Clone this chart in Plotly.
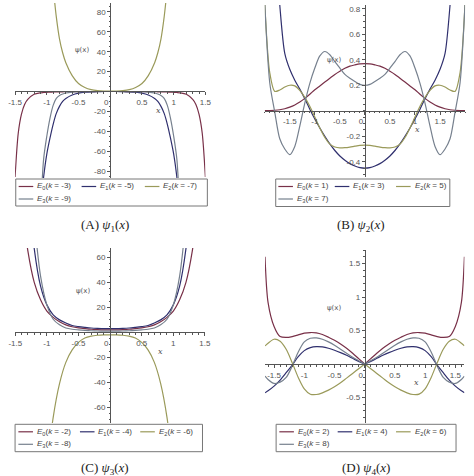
import plotly.graph_objects as go

# ---------------- data ----------------
names = ["E0", "E1", "E2", "E3"]
colors = ["#783048", "#30306e", "#9a9a5a", "#76808e"]

# (A) psi_1, k = -3, -5, -7, -9
a_k = [-3, -5, -7, -9]
a_x = [-1.5, -1.45, -1.4, -1.35, -1.3, -1.2, -1.1, -1.05, -1.0, -0.95, -0.9, -0.85, -0.8, -0.75, -0.7,
       -0.6, -0.5, -0.4, -0.3, -0.2, -0.1, 0, 0.1, 0.2, 0.3, 0.4, 0.5, 0.6, 0.7, 0.75, 0.8, 0.85, 0.9,
       0.95, 1.0, 1.05, 1.1, 1.2, 1.3, 1.35, 1.4, 1.45, 1.5]
a_e0 = [-86, -42, -23, -13, -8, -2.8, -1.3, -1.0, -0.8, -0.6, -0.5, -0.4, -0.3, -0.3, -0.2, -0.2, -0.1, -0.1,
        -0.1, 0, 0, 0, 0, 0, -0.1, -0.1, -0.1, -0.2, -0.2, -0.3, -0.3, -0.4, -0.5, -0.6, -0.8, -1.0, -1.3,
        -2.8, -8, -13, -23, -42, -86]
a_e1 = [None, None, None, None, None, None, -118, -86, -63, -47, -33, -22, -15, -10, -7, -3.5, -1.6, -0.7,
        -0.3, -0.1, 0, 0, 0, -0.1, -0.3, -0.7, -1.6, -3.5, -7, -10, -15, -22, -33, -47, -63, -86, -118,
        None, None, None, None, None, None]
a_e2 = [None, None, None, None, None, None, None, None, None, None, 105, 75, 53, 39, 29, 16, 8, 4, 1.8,
        0.8, 0.4, 0.3, 0.4, 0.8, 1.8, 4, 8, 16, 29, 39, 53, 75, 105, None, None, None, None, None, None,
        None, None, None, None]
a_e3 = [None, None, None, None, None, None, -125, -68, -45, -27, -14, -7, -4, -2.5, -1.5, -0.6, -0.2,
        -0.1, -0.1, 0, 0, 0, 0, 0, -0.1, -0.1, -0.2, -0.6, -1.5, -2.5, -4, -7, -14, -27, -45, -68, -125,
        None, None, None, None, None, None]

# (B) psi_2, k = 1, 3, 5, 7
b_k = [1, 3, 5, 7]
b_x = [-2.0, -1.9, -1.8, -1.7, -1.6, -1.5, -1.4, -1.3, -1.2, -1.1, -1.0, -0.9, -0.8, -0.7, -0.6, -0.5,
       -0.4, -0.3, -0.2, -0.1, 0, 0.1, 0.2, 0.3, 0.4, 0.5, 0.6, 0.7, 0.8, 0.9, 1.0, 1.1, 1.2, 1.3, 1.4,
       1.5, 1.6, 1.7, 1.8, 1.9, 2.0]
b_e0 = [0.001, 0.002, 0.004, 0.008, 0.016, 0.028, 0.045, 0.068, 0.097, 0.13, 0.165, 0.195, 0.225, 0.255,
        0.285, 0.31, 0.333, 0.35, 0.36, 0.368, 0.37, 0.368, 0.36, 0.35, 0.333, 0.31, 0.285, 0.255, 0.225,
        0.195, 0.165, 0.13, 0.097, 0.068, 0.045, 0.028, 0.016, 0.008, 0.004, 0.002, 0.001]
b_e1 = [None, None, 1.4, 0.83, 0.45, 0.325, 0.24, 0.17, 0.095, 0.012, -0.065, -0.135, -0.2, -0.26, -0.312,
        -0.355, -0.388, -0.415, -0.434, -0.446, -0.45, -0.446, -0.434, -0.415, -0.388, -0.355, -0.312,
        -0.26, -0.2, -0.135, -0.065, 0.012, 0.095, 0.17, 0.24, 0.325, 0.45, 0.83, 1.4, None, None]
b_e2 = [0.85, 0.3, 0.152, 0.163, 0.186, 0.2, 0.195, 0.16, 0.105, 0.035, -0.05, -0.135, -0.21, -0.262,
        -0.285, -0.292, -0.29, -0.285, -0.278, -0.272, -0.27, -0.272, -0.278, -0.285, -0.29, -0.292,
        -0.285, -0.262, -0.21, -0.135, -0.05, 0.035, 0.105, 0.16, 0.195, 0.2, 0.186, 0.163, 0.152, 0.3, 0.85]
b_e3 = [0.85, 0.22, -0.01, -0.22, -0.3, -0.345, -0.28, -0.12, 0.06, 0.215, 0.335, 0.43, 0.465, 0.44,
        0.386, 0.335, 0.285, 0.255, 0.23, 0.207, 0.2, 0.207, 0.23, 0.255, 0.285, 0.335, 0.386, 0.44, 0.465,
        0.43, 0.335, 0.215, 0.06, -0.12, -0.28, -0.345, -0.3, -0.22, -0.01, 0.22, 0.85]

# (C) psi_3, k = -2, -4, -6, -8
c_k = [-2, -4, -6, -8]
c_x = [-1.5, -1.4, -1.3, -1.2, -1.1, -1.0, -0.9, -0.8, -0.7, -0.6, -0.5, -0.4, -0.3, -0.2, -0.1, 0,
       0.1, 0.2, 0.3, 0.4, 0.5, 0.6, 0.7, 0.8, 0.9, 1.0, 1.1, 1.2, 1.3, 1.4, 1.5]
c_e0 = [None, 105, 65, 40, 26, 17, 12, 8.5, 6, 4.5, 3.6, 3, 2.5, 2.2, 2, 2, 2, 2.2, 2.5, 3, 3.6, 4.5, 6,
        8.5, 12, 17, 26, 40, 65, 105, None]
c_e1 = [None, None, 120, 67, 37, 22, 14, 10, 7.5, 5.5, 4.6, 4, 3.5, 3.2, 3, 3, 3, 3.2, 3.5, 4, 4.6, 5.5,
        7.5, 10, 14, 22, 37, 67, 120, None, None]
c_e2 = [None, None, None, None, None, -110, -68, -41, -24, -14, -8, -4.5, -3, -2.3, -2, -2, -2, -2.3, -3,
        -4.5, -8, -14, -24, -41, -68, -110, None, None, None, None, None]
c_e3 = [None, None, None, 90, 45, 22, 10.5, 6, 3.5, 2.5, 2, 1.6, 1.3, 1.1, 1, 1, 1, 1.1, 1.3, 1.6, 2, 2.5,
        3.5, 6, 10.5, 22, 45, 90, None, None, None]

# (D) psi_4, k = 2, 4, 6, 8
d_k = [2, 4, 6, 8]
d_x = [-1.65, -1.6, -1.5, -1.4, -1.3, -1.2, -1.1, -1.0, -0.9, -0.8, -0.7, -0.6, -0.5, -0.4, -0.3, -0.2,
       -0.1, 0, 0.1, 0.2, 0.3, 0.4, 0.5, 0.6, 0.7, 0.8, 0.9, 1.0, 1.1, 1.2, 1.3, 1.4, 1.5, 1.6, 1.65]
d_e0 = [1.6, 0.92, 0.56, 0.41, 0.397, 0.41, 0.435, 0.46, 0.47, 0.465, 0.44, 0.4, 0.355, 0.3, 0.235, 0.16,
        0.08, 0, 0.08, 0.16, 0.235, 0.3, 0.355, 0.4, 0.44, 0.465, 0.47, 0.46, 0.435, 0.41, 0.397, 0.41,
        0.56, 0.92, 1.6]
d_e1 = [-0.43, -0.4, -0.33, -0.24, -0.13, -0.015, 0.11, 0.2, 0.245, 0.26, 0.255, 0.235, 0.205, 0.17, 0.13,
        0.085, 0.04, 0, 0.04, 0.085, 0.13, 0.17, 0.205, 0.235, 0.255, 0.26, 0.245, 0.2, 0.11, -0.015, -0.13,
        -0.24, -0.33, -0.4, -0.43]
d_e2 = [0.27, 0.31, 0.37, 0.34, 0.22, 0.02, -0.2, -0.37, -0.45, -0.455, -0.43, -0.39, -0.34, -0.28, -0.21,
        -0.14, -0.07, 0, -0.07, -0.14, -0.21, -0.28, -0.34, -0.39, -0.43, -0.455, -0.45, -0.37, -0.2, 0.02,
        0.22, 0.34, 0.37, 0.31, 0.27]
d_e3 = [-0.18, -0.23, -0.29, -0.27, -0.2, -0.03, 0.18, 0.33, 0.385, 0.39, 0.37, 0.33, 0.28, 0.22, 0.16,
        0.1, 0.05, 0, 0.05, 0.1, 0.16, 0.22, 0.28, 0.33, 0.37, 0.39, 0.385, 0.33, 0.18, -0.03, -0.2, -0.27,
        -0.29, -0.23, -0.18]

# tick labels ("0" sits left of the vertical axis, as Maple draws it)
x_ticks = [-1.5, -1, -0.5, 0, 0.5, 1, 1.5]
x_ticktext = ["-1.5", "-1", "-0.5", "0\u2003", "0.5", "1", "1.5"]
a_yticks = [-80, -60, -40, -20, 20, 40, 60, 80]
b_yticks = [-0.4, -0.2, 0.2, 0.4, 0.6, 0.8]
c_yticks = [-60, -40, -20, 20, 40, 60]
d_yticks = [-0.5, 0.5, 1, 1.5]

# ---------------- layout in pixels of the 474x476 page ----------------
W, H = 474, 476


def fx(px):
    return px / W


def fy(py):
    return 1 - py / H


panels = [
    dict(tag="A", sub="1", x=a_x, ys=[a_e0, a_e1, a_e2, a_e3], k=a_k, yticks=a_yticks,
         xpx=(8.3, 204), ypx=(3, 178), xr=[-1.5, 1.5], yr=[-87, 89], xminor=0.1, yminor=5,
         ylab=(-0.44, 42), xlab=(0.76, -19), box=(9, 179, 206, 206), cols=(12, 76.7, 141.7),
         cap=(101, 225), cusp=False),
    dict(tag="B", sub="2", x=b_x, ys=[b_e0, b_e1, b_e2, b_e3], k=b_k, yticks=b_yticks,
         xpx=(265, 471), ypx=(5, 177), xr=[-2.0, 2.0], yr=[-0.52, 0.83], xminor=0.1, yminor=0.05,
         ylab=(-0.61, 0.4), xlab=(1.04, -0.15), box=(276.3, 179, 455.3, 206.5), cols=(279, 337, 400),
         cap=(364, 225), cusp=False),
    dict(tag="C", sub="3", x=c_x, ys=[c_e0, c_e1, c_e2, c_e3], k=c_k, yticks=c_yticks,
         xpx=(8.5, 203.5), ypx=(248, 423), xr=[-1.5, 1.5], yr=[-72.5, 67.5], xminor=0.1, yminor=5,
         ylab=(-0.43, 33), xlab=(0.8, -15), box=(8.3, 424.3, 201, 451.7), cols=(11.7, 75, 137),
         cap=(101, 468), cusp=False),
    dict(tag="D", sub="4", x=d_x, ys=[d_e0, d_e1, d_e2, d_e3], k=d_k, yticks=d_yticks,
         xpx=(265.3, 470.3), ypx=(249.7, 423), xr=[-1.65, 1.65], yr=[-0.88, 1.706], xminor=0.1, yminor=0.1,
         ylab=(-0.51, 0.84), xlab=(0.86, -0.27), box=(276.7, 424.3, 461.7, 451.7), cols=(280, 340, 400),
         cap=(369, 468), cusp=True),
]

axis_col = "#555555"
tick_font = dict(family="Liberation Sans, Arial, sans-serif", size=8, color="#555555")

fig = go.Figure()
shapes, annotations = [], []

for i, p in enumerate(panels):
    n = "" if i == 0 else str(i + 1)
    xa, ya = "x" + n, "y" + n
    xdom = [fx(p["xpx"][0]), fx(p["xpx"][1])]
    ydom = [fy(p["ypx"][1]), fy(p["ypx"][0])]
    # axes cross at the origin, Maple style
    xpos = ydom[0] + (0 - p["yr"][0]) / (p["yr"][1] - p["yr"][0]) * (ydom[1] - ydom[0])
    ypos = xdom[0] + (0 - p["xr"][0]) / (p["xr"][1] - p["xr"][0]) * (xdom[1] - xdom[0])

    fig.layout["xaxis" + n] = dict(
        domain=xdom, range=p["xr"], anchor="free", position=xpos,
        showline=True, linecolor=axis_col, linewidth=1, showgrid=False, zeroline=False,
        ticks="outside", ticklen=3, tickcolor=axis_col, tickvals=x_ticks, ticktext=x_ticktext,
        tickfont=tick_font, ticklabelstandoff=0,
        minor=dict(ticks="outside", ticklen=1.5, tickcolor=axis_col, dtick=p["xminor"], tick0=0),
    )
    fig.layout["yaxis" + n] = dict(
        domain=ydom, range=p["yr"], anchor="free", position=ypos,
        showline=True, linecolor=axis_col, linewidth=1, showgrid=False, zeroline=False,
        ticks="outside", ticklen=3, tickcolor=axis_col, tickvals=p["yticks"],
        ticktext=[f"{v:g}" for v in p["yticks"]], tickfont=tick_font, ticklabelstandoff=0,
        minor=dict(ticks="outside", ticklen=1.5, tickcolor=axis_col, dtick=p["yminor"], tick0=0),
    )

    for j, ys in enumerate(p["ys"]):
        label = f"E{j}(k = {p['k'][j]})"
        line = dict(color=colors[j], width=1.2, shape="spline", smoothing=0.8)
        if p["cusp"]:
            # the curves have a corner at the origin: draw each half separately
            mid = len(p["x"]) // 2
            fig.add_trace(go.Scatter(x=p["x"][:mid + 1], y=ys[:mid + 1], mode="lines", line=line,
                                     xaxis=xa, yaxis=ya, name=label, showlegend=False))
            fig.add_trace(go.Scatter(x=p["x"][mid:], y=ys[mid:], mode="lines", line=line,
                                     xaxis=xa, yaxis=ya, name=label, showlegend=False))
        else:
            fig.add_trace(go.Scatter(x=p["x"], y=ys, mode="lines", line=line,
                                     xaxis=xa, yaxis=ya, name=label, showlegend=False))

    # axis names placed like Maple does
    annotations.append(dict(x=p["ylab"][0], y=p["ylab"][1], xref=xa, yref=ya, text="ψ(x)",
                            xanchor="center", yanchor="middle", showarrow=False,
                            font=dict(family="DejaVu Sans", size=7, color="#555")))
    annotations.append(dict(x=p["xlab"][0], y=p["xlab"][1], xref=xa, yref=ya, text="<i>x</i>",
                            xanchor="center", yanchor="middle", showarrow=False,
                            font=dict(family="DejaVu Serif", size=8, color="#555")))

    # legend box drawn by hand, three entries on the first row, one on the second
    bx0, by0, bx1, by1 = p["box"]
    shapes.append(dict(type="rect", xref="paper", yref="paper", x0=fx(bx0), x1=fx(bx1),
                       y0=fy(by1), y1=fy(by0), line=dict(color="#777", width=1)))
    spots = [(p["cols"][0], by0 + 7.5), (p["cols"][1], by0 + 7.5), (p["cols"][2], by0 + 7.5),
             (p["cols"][0], by0 + 20)]
    for j, (lx, ly) in enumerate(spots):
        shapes.append(dict(type="line", xref="paper", yref="paper", x0=fx(lx), x1=fx(lx + 15),
                           y0=fy(ly), y1=fy(ly), line=dict(color=colors[j], width=1.2)))
        annotations.append(dict(
            x=fx(lx + 17), y=fy(ly), xref="paper", yref="paper", xanchor="left", yanchor="middle",
            text=f"<i>E</i><sub>{j}</sub>(<i>k</i> = {p['k'][j]})", showarrow=False,
            font=dict(family="Liberation Sans, Arial, sans-serif", size=8, color="#444")))

    # caption under each panel
    annotations.append(dict(
        x=fx(p["cap"][0]), y=fy(p["cap"][1]), xref="paper", yref="paper", showarrow=False,
        xanchor="center", yanchor="middle",
        text=f"({p['tag']}) <i>ψ</i><sub>{p['sub']}</sub>(<i>x</i>)",
        font=dict(family="Liberation Serif, DejaVu Serif, serif", size=13, color="#222")))

fig.update_layout(
    width=W, height=H, margin=dict(l=0, r=0, t=0, b=0),
    paper_bgcolor="white", plot_bgcolor="white", showlegend=False,
    shapes=shapes, annotations=annotations,
)

# drop the browser's default body margin so the figure fills the window
fig.write_html("out.html", config={"displayModeBar": False},
               post_script="document.body.style.margin = '0';")
